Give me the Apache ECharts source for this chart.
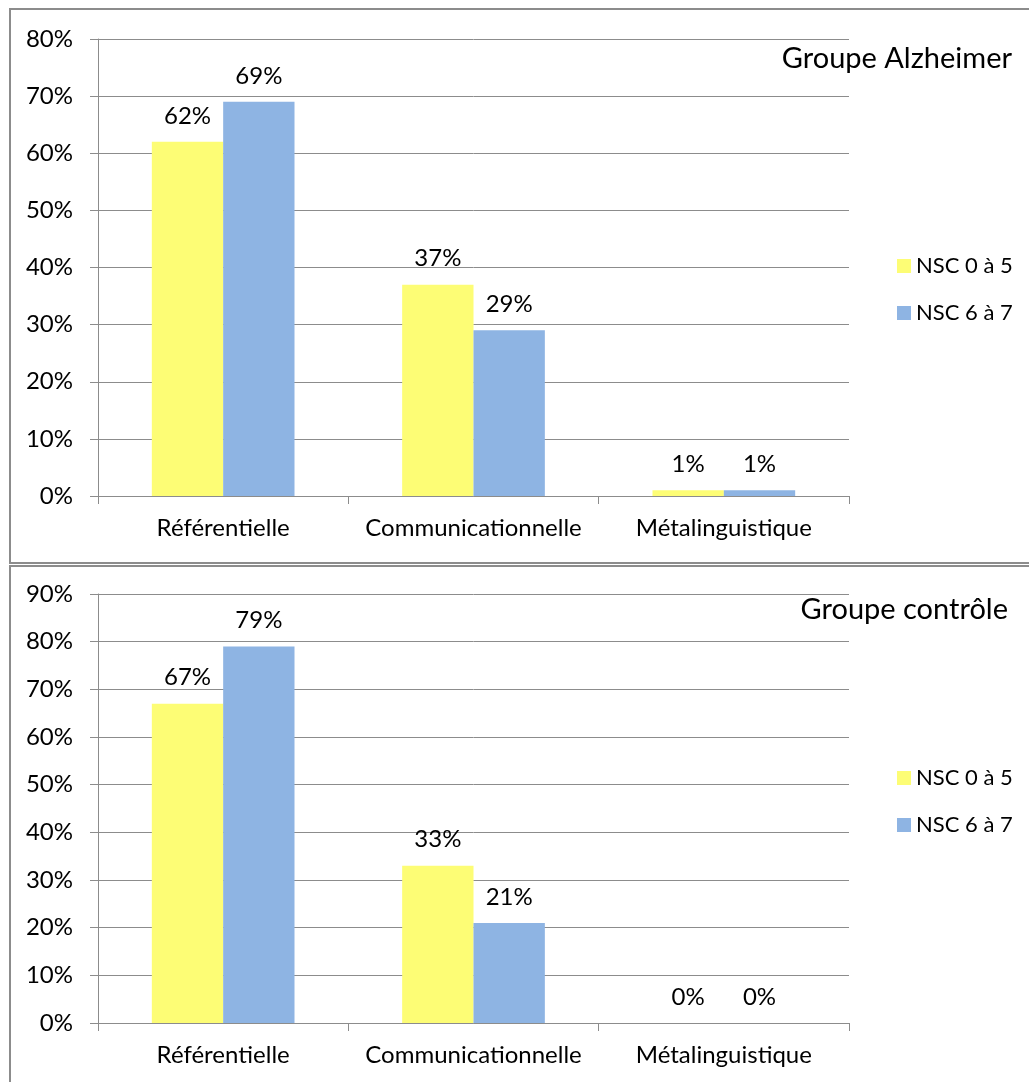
<!DOCTYPE html>
<html><head><meta charset="utf-8">
<script src="https://cdn.jsdelivr.net/npm/echarts@6/dist/echarts.min.js"></script>
<style>html,body{margin:0;padding:0;background:#fff}#c{width:1029px;height:1082px}</style>
</head><body><div id="c"></div>
<script>
const categories = ['Référentielle', 'Communicationnelle', 'Métalinguistique'];
const seriesNames = ['NSC 0 à 5', 'NSC 6 à 7'];
const alzLow = [62, 37, 1];
const alzHigh = [69, 29, 1];
const ctrlLow = [67, 33, 0];
const ctrlHigh = [79, 21, 0];
const titles = ['Groupe Alzheimer', 'Groupe contrôle'];
const colors = ['#FDFD75', '#8EB4E3'];
const FONT = 'Lato';

const chart = echarts.init(document.getElementById('c'));
const grids = [
  {left: 98, width: 751, top: 39, height: 457},
  {left: 98, width: 751, top: 594, height: 429}
];
function xAx(i){ return {type:'category', gridIndex:i, data:categories,
  axisLine:{lineStyle:{color:'#8c8c8c', width:1}},
  axisTick:{show:true, length:8, alignWithLabel:false, lineStyle:{color:'#8c8c8c'}},
  axisLabel:{color:'#000', fontSize:24, fontFamily:FONT, margin:20, interval:0, hideOverlap:false}}; }
function yAx(i,max){ return {type:'value', gridIndex:i, min:0, max:max, interval:10,
  axisLine:{show:true, lineStyle:{color:'#8c8c8c'}},
  axisTick:{show:true, length:8, lineStyle:{color:'#8c8c8c'}},
  splitLine:{lineStyle:{color:'#8c8c8c', width:1}},
  axisLabel:{color:'#000', fontSize:24, fontFamily:FONT, margin:25, formatter:'{value}%'}}; }
function ser(name, data, i, c){ return {name:name, type:'bar', xAxisIndex:i, yAxisIndex:i, data:data,
  barGap:'0%', barCategoryGap:'43%', itemStyle:{color:c},
  label:{show:true, position:'top', distance:14, formatter:'{c}%', color:'#000', fontSize:24, fontFamily:FONT}}; }
const legendBase = {orient:'vertical', itemWidth:14, itemHeight:14, itemGap:25, itemTextGap:7, icon:'rect',
  textStyle:{fontSize:22, fontFamily:FONT, color:'#000'}, data:seriesNames, selectedMode:false};

chart.setOption({
  animation:false,
  grid: grids,
  xAxis:[xAx(0), xAx(1)],
  yAxis:[yAx(0,80), yAx(1,90)],
  title:[
    {text:titles[0], right:12, top:39, textStyle:{fontSize:29, fontWeight:'normal', fontFamily:FONT, color:'#000'}},
    {text:titles[1], right:16, top:590, textStyle:{fontSize:29, fontWeight:'normal', fontFamily:FONT, color:'#000'}}
  ],
  legend:[
    Object.assign({left:892, top:250}, legendBase),
    Object.assign({left:892, top:762}, legendBase)
  ],
  series:[ser(seriesNames[0], alzLow, 0, colors[0]), ser(seriesNames[1], alzHigh, 0, colors[1]),
          ser(seriesNames[0], ctrlLow, 1, colors[0]), ser(seriesNames[1], ctrlHigh, 1, colors[1])],
  graphic:[
    {type:'rect', shape:{x:10, y:9, width:1030, height:554}, style:{fill:null, stroke:'#8c8c8c', lineWidth:2}},
    {type:'rect', shape:{x:10, y:566, width:1030, height:530}, style:{fill:null, stroke:'#8c8c8c', lineWidth:2}}
  ]
});
</script></body></html>
